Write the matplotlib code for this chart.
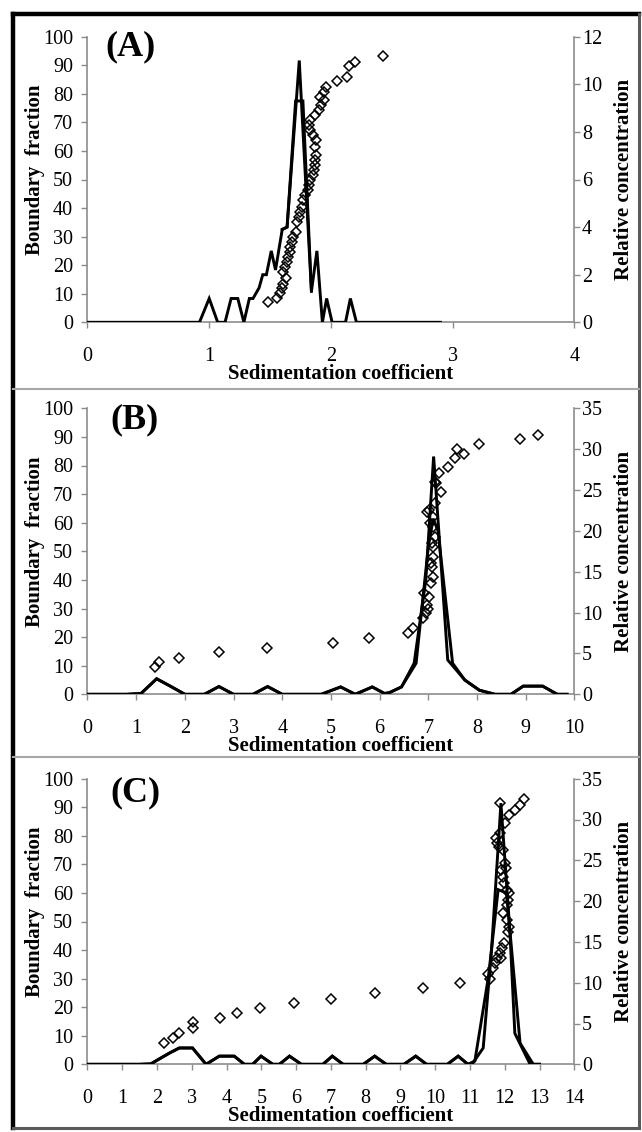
import numpy as np
import matplotlib
matplotlib.use("Agg")
import matplotlib.pyplot as plt
from matplotlib.lines import Line2D

plt.rcParams['font.family'] = ['Liberation Serif', 'DejaVu Serif']

# ---- panel (A) ----
a_s1 = [0.0, 0.92, 1.0, 1.07, 1.13, 1.18, 1.235, 1.285, 1.33, 1.36, 1.41, 1.44, 1.47, 1.51,
        1.545, 1.60, 1.64, 1.74, 1.84, 1.885, 1.93, 1.965, 2.01, 2.12, 2.16, 2.21, 2.9]
a_g1 = [0, 0, 1.0, 0, 0, 1.0, 1.0, 0, 1.0, 1.0, 1.45, 2.0, 2.0, 3.0,
        2.2, 3.9, 4.0, 11.0, 1.3, 3.0, 0, 1.0, 0, 0, 1.0, 0, 0]
a_s2 = [1.60, 1.64, 1.71, 1.77, 1.84]
a_g2 = [3.9, 4.0, 9.3, 9.3, 1.3]
a_bf_s = [1.48, 1.56, 1.58, 1.60, 1.61, 1.63, 1.61, 1.62, 1.64, 1.65, 1.66, 1.66, 1.68, 1.69,
          1.71, 1.72, 1.74, 1.75, 1.76, 1.77, 1.79, 1.81, 1.82, 1.83, 1.85, 1.86, 1.87, 1.87,
          1.88, 1.87, 1.88, 1.85, 1.83, 1.82, 1.83, 1.87, 1.90, 1.92, 1.94, 1.91, 1.94, 1.96,
          2.05, 2.13, 2.15, 2.20, 2.43]
a_bf = [7.0, 8.6, 10.2, 11.9, 13.4, 15.4, 17.7, 19.5, 21.2, 23.0, 24.7, 26.5, 28.2, 30.0,
        31.5, 35.2, 37.0, 38.7, 40.5, 42.8, 44.6, 46.3, 48.1, 49.8, 51.6, 53.3, 55.1, 56.8,
        58.6, 61.5, 63.8, 65.6, 67.3, 69.1, 70.8, 72.6, 74.3, 76.1, 77.8, 79.0, 80.7, 82.3,
        84.6, 86.0, 89.7, 91.2, 93.3]

# ---- panel (B) ----
b_s1 = [0.0, 0.8, 1.1, 1.42, 1.7, 2.0, 2.4, 2.7, 3.0, 3.4, 3.7, 4.0, 4.8, 5.2, 5.5, 5.85,
        6.1, 6.2, 6.45, 6.71, 6.95, 7.11, 7.40, 7.75, 8.05, 8.37, 8.7, 8.95, 9.35, 9.65, 9.85]
b_g1 = [0, 0, 0.1, 1.9, 1.0, 0, 0, 0.95, 0, 0, 0.95, 0, 0, 0.9, 0, 0.9,
        0.1, 0.2, 0.9, 3.8, 14.0, 29.1, 4.2, 1.75, 0.5, 0, 0, 1.0, 1.0, 0, 0]
b_s2 = [0.0, 0.8, 1.1, 1.42, 1.7, 2.0, 2.4, 2.7, 3.0, 3.4, 3.7, 4.0, 4.8, 5.2, 5.5, 5.85,
        6.1, 6.2, 6.45, 6.75, 7.0, 7.1, 7.2, 7.5, 7.75, 8.05, 8.37, 8.7, 8.95, 9.35, 9.65, 9.85]
b_g2 = [0, 0, 0.1, 1.9, 1.0, 0, 0, 0.95, 0, 0, 0.95, 0, 0, 0.9, 0, 0.9,
        0.1, 0.2, 0.9, 3.8, 18.0, 21.5, 20.0, 3.8, 1.75, 0.5, 0, 0, 1.0, 1.0, 0, 0]
b_bf_s = [1.39, 1.46, 1.88, 2.70, 3.69, 5.05, 5.79, 6.58, 6.69, 6.89, 6.95, 6.98, 7.02, 6.92,
          7.06, 7.09, 7.08, 7.09, 7.10, 7.13, 7.10, 7.09, 7.02, 7.13, 7.26, 7.16, 7.22, 7.41,
          7.55, 7.59, 7.73, 8.05, 8.89, 9.26, 7.00, 7.05, 7.07, 7.04, 6.97, 7.14]
b_bf = [9.7, 11.2, 12.8, 14.7, 16.3, 18.1, 19.6, 21.5, 23.3, 26.6, 28.3, 31.2, 34.1, 35.3,
        38.8, 41.1, 44.6, 48.1, 51.6, 55.1, 58.6, 62.1, 64.4, 66.8, 70.8, 73.8, 77.3, 79.6,
        82.5, 85.8, 84.0, 87.4, 89.3, 90.7, 30.0, 46.0, 53.0, 60.0, 63.9, 74.4]

# ---- panel (C) ----
c_s1 = [0.0, 1.5, 1.82, 2.35, 2.64, 3.02, 3.41, 3.79, 4.22, 4.51, 4.75, 4.99, 5.33, 5.52,
        5.81, 6.15, 6.77, 7.04, 7.35, 7.93, 8.26, 8.59, 9.1, 9.44, 9.75, 10.35, 10.66, 10.94,
        11.09, 11.38, 11.62, 11.89, 12.15, 12.29, 12.73, 13.0]
c_g1 = [0, 0, 0.05, 1.36, 2.0, 2.0, 0, 1.0, 1.0, 0, 0, 1.0, 0, 0,
        1.0, 0, 0, 1.0, 0, 0, 1.0, 0, 0, 1.0, 0, 0, 1.0, 0,
        0.2, 2.0, 14.0, 32.0, 16.1, 3.8, 0, 0]
c_s2 = [0.0, 1.5, 1.82, 2.35, 2.64, 3.02, 3.41, 3.79, 4.22, 4.51, 4.75, 4.99, 5.33, 5.52,
        5.81, 6.15, 6.77, 7.04, 7.35, 7.93, 8.26, 8.59, 9.1, 9.44, 9.75, 10.35, 10.66, 10.94,
        11.14, 11.53, 11.81, 12.05, 12.44, 12.82, 13.0]
c_g2 = [0, 0, 0.05, 1.36, 2.0, 2.0, 0, 1.0, 1.0, 0, 0, 1.0, 0, 0,
        1.0, 0, 0, 1.0, 0, 0, 1.0, 0, 0, 1.0, 0, 0, 1.0, 0,
        0.4, 10.7, 21.4, 21.0, 2.6, 0, 0]
c_bf_s = [2.21, 2.45, 2.62, 3.02, 3.02, 3.82, 4.30, 4.95, 5.93, 7.01, 8.28, 9.66, 10.72,
          11.51, 11.58, 11.66, 11.72, 11.78, 11.86, 11.93, 11.99, 11.90, 12.08, 12.13, 12.07,
          11.96, 12.07, 12.11, 12.06, 12.09, 12.04, 11.99, 11.95, 11.90, 12.02, 11.96, 11.84,
          11.78, 11.75, 11.86, 12.02, 12.13, 12.29, 12.45, 11.86, 12.55]
c_bf = [7.4, 9.2, 10.9, 12.7, 14.7, 16.2, 18.0, 19.8, 21.5, 22.9, 24.9, 26.6, 28.4,
        31.6, 29.8, 33.6, 35.4, 37.1, 38.9, 40.6, 42.4, 37.1, 46.4, 48.2, 50.5,
        52.9, 55.8, 59.9, 61.0, 57.5, 68.6, 63.4, 65.7, 68.0, 70.4, 75.0, 76.2,
        77.4, 79.1, 80.9, 84.4, 87.3, 89.0, 90.8, 91.4, 92.8]

W, H = 642, 1132
GRAY = '#8c8c8c'
TICK_FS = 14.5
LABEL_FS = 15

fig = plt.figure(figsize=(W / 100, H / 100), dpi=100)


def fx(x):
    return x / W


def fy(y):
    return 1 - y / H


def draw_panel(top, bottom, letter, letter_xy, xmax, rmax, rstep, bf_s, bf, lines):
    left, right = 87.5, 574.3
    ax = fig.add_axes([fx(left), fy(bottom), (right - left) / W, (bottom - top) / H])
    ax2 = ax.twinx()

    ax.plot(bf_s, bf, linestyle='none', marker='D', markersize=5.5,
            markerfacecolor='none', markeredgecolor='black', markeredgewidth=1.1, zorder=3)
    for s, g in lines:
        ax2.plot(s, g, color='black', linewidth=2.1, solid_joinstyle='miter')

    ax.set_xlim(0, xmax)
    ax.set_ylim(0, 100)
    ax2.set_ylim(0, rmax)
    ax.set_xticks(np.arange(0, xmax + 1, 1))
    ax.set_yticks(np.arange(0, 101, 10))
    ax2.set_yticks(np.arange(0, rmax + 0.1, rstep))

    for a in (ax, ax2):
        a.patch.set_visible(False)
        for sp in a.spines.values():
            sp.set_visible(False)
    ax.spines['left'].set_visible(True)
    ax.spines['bottom'].set_visible(True)
    ax2.spines['right'].set_visible(True)
    for sp in (ax.spines['left'], ax.spines['bottom'], ax2.spines['right']):
        sp.set_color(GRAY)
        sp.set_linewidth(1.2)

    ax.tick_params(axis='x', direction='out', length=4.5, width=1, color=GRAY,
                   labelsize=TICK_FS, pad=13)
    ax.tick_params(axis='y', direction='out', length=4.5, width=1, color=GRAY,
                   labelsize=TICK_FS, pad=6)
    ax2.tick_params(axis='y', direction='out', length=4.5, width=1, color=GRAY,
                    labelsize=TICK_FS, pad=1)

    ax.set_xlabel('Sedimentation coefficient', fontsize=LABEL_FS, fontweight='bold')
    ax.xaxis.set_label_coords(0.52, -0.182)
    ax.xaxis.label.set_va('center')
    ax.set_ylabel('Boundary  fraction', fontsize=LABEL_FS, fontweight='bold')
    ax.yaxis.set_label_coords(-0.108, 0.535)
    ax.yaxis.label.set_va('center')
    ax2.set_ylabel('Relative concentration', fontsize=LABEL_FS, fontweight='bold',
                   rotation=90)
    ax2.yaxis.set_label_coords(1.102, 0.5)
    ax2.yaxis.label.set_va('center')

    ax.text(letter_xy[0], letter_xy[1], letter, transform=ax.transAxes,
            fontsize=26, fontweight='bold', ha='left', va='center')
    return ax


draw_panel(36.7, 322.3, '(A)', (0.037, 0.965), 4, 12, 2, a_bf_s, a_bf,
           [(a_s1, a_g1), (a_s2, a_g2)])
draw_panel(408.3, 694.3, '(B)', (0.047, 0.958), 10, 35, 5, b_bf_s, b_bf,
           [(b_s1, b_g1), (b_s2, b_g2)])
draw_panel(778.7, 1064.3, '(C)', (0.046, 0.95), 14, 35, 5, c_bf_s, c_bf,
           [(c_s1, c_g1), (c_s2, c_g2)])

# outer frame and panel separators
fig.add_artist(Line2D([fx(13), fx(638.5)], [fy(14), fy(14)], color='black', linewidth=3.2,
                      transform=fig.transFigure))
fig.add_artist(Line2D([fx(13), fx(13)], [fy(14), fy(1127.5)], color='black', linewidth=3.2,
                      transform=fig.transFigure))
fig.add_artist(Line2D([fx(638.5), fx(638.5)], [fy(14), fy(1127.5)], color='#5a5a5a',
                      linewidth=2.2, transform=fig.transFigure))
fig.add_artist(Line2D([fx(13), fx(638.5)], [fy(1127.5), fy(1127.5)], color='#5a5a5a',
                      linewidth=2.2, transform=fig.transFigure))
for ysep in (389, 757):
    fig.add_artist(Line2D([fx(13), fx(638.5)], [fy(ysep), fy(ysep)], color='#a8a8a8',
                          linewidth=1.5, transform=fig.transFigure))

plt.savefig('out.png', dpi=100)
